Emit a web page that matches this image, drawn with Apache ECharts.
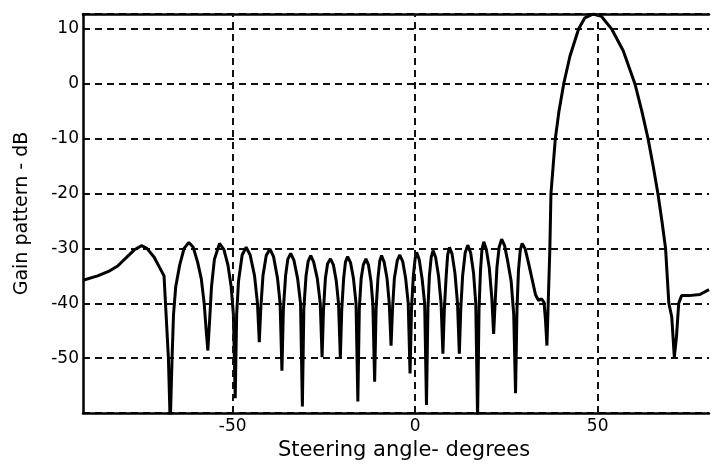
<!DOCTYPE html>
<html>
<head>
<meta charset="utf-8">
<title>Gain pattern</title>
<script src="https://cdn.jsdelivr.net/npm/echarts@6/dist/echarts.min.js"></script>
<style>
  html, body { margin: 0; padding: 0; background: #fff; }
  #chart { width: 712px; height: 466px; }
</style>
</head>
<body>
<div id="chart"></div>
<script>
// steering angle (deg) and gain (dB)
const angleDeg = [
  -91, -87, -84, -81.5, -79, -77, -75, -73.5, -71.5, -70, -68.8, -68.4, -67.6, -67.1,
  -66.6, -66.2, -65.6, -64.5, -63.3, -62, -60.8, -59.6, -58.6, -57.8, -57.3, -56.8,
  -56.3, -55.8, -55, -53.6, -52.4, -51.3, -50.4, -49.8, -49.3,
  -48.9, -48.4, -47.4, -46.3, -45.2, -44, -43.2, -42.7,
  -42.3, -41.7, -40.8, -39.8, -38.8, -37.7, -37, -36.5,
  -36.1, -35.5, -34.9, -34.1, -33.2, -32.2, -31.4, -30.9,
  -30.5, -29.9, -29.3, -28.6, -27.8, -26.8, -26, -25.5,
  -25.1, -24.6, -24, -23.2, -22.4, -21.6, -21, -20.5,
  -20.1, -19.6, -19.1, -18.5, -17.7, -16.9, -16.2, -15.7,
  -15.3, -14.8, -14.2, -13.5, -12.8, -12.1, -11.6, -11.1,
  -10.7, -10.2, -9.7, -9.2, -8.5, -7.7, -7.1, -6.6,
  -6.2, -5.7, -4.9, -4.2, -3.4, -2.6, -1.9, -1.4,
  -1.0, -0.5, 0, 0.4, 1.1, 1.9, 2.6, 3.1,
  3.5, 3.9, 4.4, 4.9, 5.6, 6.4, 7.1, 7.6,
  8.0, 8.5, 8.9, 9.4, 10.1, 10.9, 11.6, 12.1,
  12.5, 13, 13.7, 14.4, 15.2, 16, 16.6, 17.1,
  17.5, 17.9, 18.3, 18.8, 19.5, 20.3, 21, 21.5,
  21.9, 22.4, 23, 23.7, 24.5, 25.4, 26.3, 27, 27.5,
  27.9, 28.3, 28.8, 29.3, 30.1, 31, 32, 33, 33.8, 34.6, 35.3, 35.7, 36.1,
  36.6, 36.9, 37.2, 37.8, 38.4, 39.4, 40.7, 42.4, 44.8, 46.5, 48.8, 51, 53.8, 57,
  60.2, 62.1, 63.8, 65.2, 66.5, 67.6, 68.6, 69.5, 70.3, 71, 71.6, 72.2, 73, 75, 78, 80.5
]
const gainDb = [
  -35.8, -35.0, -34.2, -33.2, -31.6, -30.3, -29.5, -30.0, -31.6, -33.5, -35.0, -40, -50, -62,
  -50, -42, -37, -33, -30, -28.9, -29.8, -32.5, -35.5, -40, -44.5, -48.6,
  -43, -37, -32, -29.1, -30.2, -33, -37, -42, -57.3,
  -42, -36, -31.2, -29.8, -31.2, -35, -40, -47.1,
  -41, -35, -31.3, -30.1, -31.5, -35.5, -40, -52.3,
  -41, -35, -32, -30.9, -32.2, -35.5, -40, -58.8,
  -41, -35, -32.3, -31.3, -32.5, -35.5, -40, -49.8,
  -41, -35.5, -32.8, -31.9, -33, -36, -40, -49.9,
  -41, -35.5, -32.5, -31.5, -32.6, -35.5, -40, -57.9,
  -41, -35.5, -33, -31.9, -33, -36, -40, -54.3,
  -41, -35.5, -32.3, -31.3, -32.5, -35.5, -40, -47.7,
  -41, -35.5, -32.2, -31.2, -32.4, -35.5, -40, -52.8,
  -41, -35, -31.8, -30.7, -32, -35.5, -40, -58.5,
  -41, -35, -31.6, -30.4, -31.6, -35, -40, -49.2,
  -41, -35, -31.2, -29.8, -31, -34.5, -40, -49.2,
  -41, -35, -30.8, -29.4, -30.8, -34.5, -40, -61,
  -41, -34, -30.2, -28.8, -30.2, -33.5, -39, -45.6,
  -40, -33.5, -29.8, -28.3, -29.5, -32.5, -36, -42, -56.4,
  -41, -34, -30.3, -29.1, -30, -32.5, -35.5, -38.5, -39.5, -39.2, -39.8, -43, -47.7,
  -47.4, -30, -20, -15, -10, -5, 0, 5, 10, 12, 12.7, 12.3, 10, 6,
  0, -5, -10, -15, -20, -25, -30, -40, -42.5, -49.8, -46, -40, -38.6, -38.6, -38.4, -37.5
]
const xTickLabels = [-50, 0, 50]
const yTickLabels = [10, 0, -10, -20, -30, -40, -50]

const ink = '#000'
const font = 'DejaVu Sans'
const gridDash = {color: '#111', width: 2, type: [7, 5]}

const chart = echarts.init(document.getElementById('chart'))
chart.setOption({
  animation: false,
  backgroundColor: '#fff',
  grid: {left: 83, right: 0, top: 14, bottom: 50},
  xAxis: [{
    type: 'value',
    min: -91,
    max: 80.5,
    interval: 1,
    name: 'Steering angle- degrees',
    nameLocation: 'middle',
    nameGap: 24,
    nameTextStyle: {color: ink, fontSize: 21, fontFamily: font, padding: [0, 0, 0, 16]},
    axisLine: {onZero: false, lineStyle: {color: ink, width: 2.5}},
    axisTick: {show: false},
    splitLine: {show: false},
    axisLabel: {
      color: ink, fontSize: 17, fontFamily: font, margin: 5,
      formatter: v => xTickLabels.includes(v) ? String(v) : ''
    }
  }, {
    type: 'value',
    position: 'top',
    min: -91,
    max: 80.5,
    axisLine: {show: true, onZero: false, lineStyle: {color: ink, width: 2.5}},
    axisTick: {show: false},
    axisLabel: {show: false},
    splitLine: {show: false}
  }],
  yAxis: {
    type: 'value',
    min: -60,
    max: 12.7,
    interval: 10,
    name: 'Gain pattern - dB',
    nameLocation: 'middle',
    nameGap: 51,
    nameTextStyle: {color: ink, fontSize: 19, fontFamily: font},
    axisLine: {show: true, onZero: false, lineStyle: {color: ink, width: 2.5}},
    axisTick: {show: false},
    splitLine: {show: true, lineStyle: gridDash},
    axisLabel: {
      color: ink, fontSize: 17, fontFamily: font, margin: 4,
      formatter: v => yTickLabels.includes(v) ? String(v) : ''
    }
  },
  series: [{
    type: 'line',
    data: angleDeg.map((a, i) => [a, gainDb[i]]),
    symbol: 'none',
    clip: true,
    lineStyle: {color: ink, width: 3},
    markLine: {
      silent: true,
      symbol: ['none', 'none'],
      label: {show: false},
      lineStyle: gridDash,
      data: xTickLabels.map(x => ({xAxis: x}))
    }
  }]
})
</script>
</body>
</html>
